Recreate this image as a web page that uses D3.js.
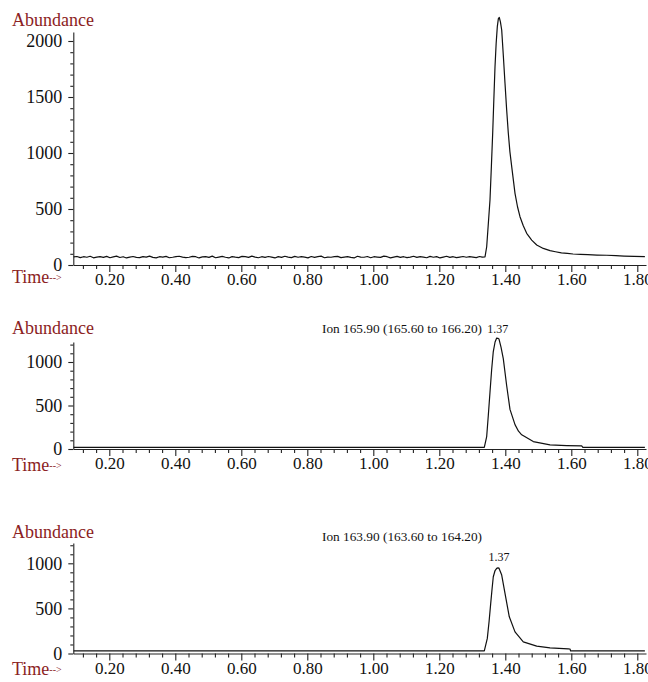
<!DOCTYPE html>
<html>
<head>
<meta charset="utf-8">
<script src="https://cdn.jsdelivr.net/npm/d3@7/dist/d3.min.js"></script>
<style>
  body { margin: 0; background: #fff; }
  svg { display: block; }
</style>
</head>
<body>
<svg id="chart" width="648" height="682"></svg>
<script>
// ---- data ----
const xMajorTicks = [0.2, 0.4, 0.6, 0.8, 1.0, 1.2, 1.4, 1.6, 1.8];
const xMinorTicks = [0.12, 0.16, 0.24, 0.28, 0.32, 0.36, 0.44, 0.48, 0.52, 0.56, 0.64, 0.68, 0.72, 0.76,
  0.84, 0.88, 0.92, 0.96, 1.04, 1.08, 1.12, 1.16, 1.24, 1.28, 1.32, 1.36, 1.44, 1.48, 1.52, 1.56,
  1.64, 1.68, 1.72, 1.76];

// TIC baseline, one reading every 0.01 min from 0.092
const ticBaseline = [
  72,76,66,74,69,78,64,71,75,68,77,65,72,79,67,74,63,71,76,68,
  66,75,70,79,68,64,74,71,77,65,69,75,78,70,66,69,77,74,63,72,
  74,68,79,65,71,77,69,63,75,70,66,77,74,68,79,71,65,74,68,76,
  71,63,75,68,78,71,66,77,69,74,70,64,76,68,74,79,65,71,69,75,
  77,66,71,74,68,63,78,71,69,76,65,74,71,68,79,74,64,71,77,68,
  74,66,71,78,68,74,71,65,77,69,75,63,71,78,68,74,66,71,76,69,
  74,71,66,76
];
const ticPeakTime = [1.330, 1.3385, 1.3436, 1.3486, 1.3536, 1.3578, 1.3618, 1.3653, 1.3688, 1.3723, 1.3758,
  1.3790, 1.3818, 1.3852, 1.3891, 1.3940, 1.3991, 1.4040, 1.4091, 1.4140, 1.4194, 1.4294, 1.4370, 1.4445,
  1.4545, 1.4648, 1.4800, 1.4952, 1.5150, 1.5355, 1.5520, 1.570, 1.588, 1.6052, 1.628, 1.650, 1.678,
  1.7073, 1.735, 1.760, 1.790, 1.823];
const ticPeakAbund = [70, 72, 163, 370, 580, 880, 1178, 1480, 1770, 1980, 2128,
  2200, 2210, 2170, 2098, 1870, 1622, 1390, 1178, 1010, 878, 640, 520, 431,
  350, 283, 222, 179, 148, 128, 118, 108, 104, 98, 95, 92, 89,
  87, 84, 80, 77, 74];

const ion166Time = [0.092, 1.3364, 1.3436, 1.3486, 1.3536, 1.3586, 1.3636, 1.3690, 1.3739, 1.3775, 1.3809,
  1.3870, 1.3939, 1.4042, 1.4142, 1.4294, 1.4400, 1.4497, 1.4848, 1.5355, 1.5861, 1.6315, 1.635, 1.823];
const ion166Abund = [18, 18, 143, 390, 653, 910, 1120, 1230, 1275, 1272, 1264,
  1170, 1038, 727, 455, 280, 205, 163, 85, 47, 39, 35, 18, 18];

const ion164Time = [0.092, 1.3364, 1.3455, 1.3510, 1.3558, 1.3600, 1.3636, 1.3690, 1.3739, 1.3775, 1.3809,
  1.3891, 1.3991, 1.4121, 1.4294, 1.4545, 1.4952, 1.5355, 1.5909, 1.596, 1.598, 1.823];
const ion164Abund = [28, 28, 167, 360, 556, 720, 851, 920, 944, 950, 946,
  870, 667, 407, 240, 129, 81, 62, 51, 50, 28, 28];

const yMajor1 = [0, 500, 1000, 1500, 2000];
const yMajor2 = [0, 500, 1000];
const ionLabels = ["", "Ion 165.90 (165.60 to 166.20)", "Ion 163.90 (163.60 to 164.20)"];
const peakLabels = ["", "1.37", "1.37"];

// ---- layout ----
const svg = d3.select("#chart");
const font = "'Liberation Serif', 'Times New Roman', serif";
const red = "#8b2222";

const x = d3.scaleLinear().domain([0.2, 1.8]).range([109.3, 637.3]);
const xLeft = 73.3, xRight = 646;

const ticSeries = ticBaseline.map((v, i) => [0.092 + i * 0.01, v])
  .concat(ticPeakTime.map((t, i) => [t, ticPeakAbund[i]]));

const panels = [
  { data: ticSeries, y0: 265, yRef: 41, refVal: 2000, top: 32, majors: yMajor1,
    abundY: 26, timeY: 283, ionY: null, peakY: null },
  { data: ion166Time.map((t, i) => [t, ion166Abund[i]]), y0: 449, yRef: 362, refVal: 1000, top: 342, majors: yMajor2,
    abundY: 334, timeY: 471, ionY: 333, peakY: 333 },
  { data: ion164Time.map((t, i) => [t, ion164Abund[i]]), y0: 653.5, yRef: 563.3, refVal: 1000, top: 543, majors: yMajor2,
    abundY: 538, timeY: 675, ionY: 541, peakY: 561 }
];

panels.forEach((p, k) => {
  const g = svg.append("g");
  const y = d3.scaleLinear().domain([0, p.refVal]).range([p.y0, p.yRef]);
  const yTopVal = y.invert(p.top);
  const yAx = y.copy().domain([0, yTopVal]).range([p.y0, p.top]);
  const minors = d3.range(100, yTopVal, 100).filter(v => v % 500 !== 0);

  // x axis
  const xa = x.copy().domain([x.invert(xLeft), x.invert(xRight)]).range([xLeft, xRight]);
  const gx = g.append("g").attr("transform", `translate(0,${p.y0})`)
    .call(d3.axisBottom(xa).tickValues(xMajorTicks).tickFormat(d3.format(".2f"))
      .tickSize(7).tickSizeOuter(0).tickPadding(1));
  g.append("g").attr("transform", `translate(0,${p.y0})`)
    .call(d3.axisBottom(xa).tickValues(xMinorTicks).tickFormat("").tickSize(4).tickSizeOuter(0))
    .select(".domain").remove();

  // y axis
  const gy = g.append("g").attr("transform", `translate(${xLeft},0)`)
    .call(d3.axisLeft(yAx).tickValues(p.majors).tickFormat(d3.format("d"))
      .tickSize(5).tickSizeOuter(0).tickPadding(6));
  g.append("g").attr("transform", `translate(${xLeft},0)`)
    .call(d3.axisLeft(yAx).tickValues(minors).tickFormat("").tickSize(3).tickSizeOuter(0))
    .select(".domain").remove();

  g.selectAll(".tick line, .domain").attr("stroke", "#222").attr("stroke-width", 1.1);
  gx.attr("font-family", null).attr("font-size", null);
  gy.attr("font-family", null).attr("font-size", null);
  gx.selectAll("text").style("font-family", font).style("font-size", "17px").attr("fill", "#111");
  gy.selectAll("text").style("font-family", font).style("font-size", "18px").attr("fill", "#111");

  // trace
  const line = d3.line().x(d => x(d[0])).y(d => y(d[1]));
  g.append("path").datum(p.data)
    .attr("d", line).attr("fill", "none")
    .attr("stroke", "#111").attr("stroke-width", 1.2).attr("stroke-linejoin", "round");

  // titles
  g.append("text").attr("x", 12).attr("y", p.abundY)
    .style("font-family", font).style("font-size", "18px").attr("fill", red).text("Abundance");
  const tt = g.append("text").attr("x", 12).attr("y", p.timeY)
    .style("font-family", font).style("font-size", "18px").attr("fill", red);
  tt.append("tspan").text("Time");
  tt.append("tspan").style("font-size", "10px").attr("dy", -2).text("-->");

  if (p.ionY) {
    g.append("text").attr("x", 322).attr("y", p.ionY)
      .style("font-family", font).style("font-size", "11.5px").attr("fill", "#111")
      .attr("textLength", 160).attr("lengthAdjust", "spacingAndGlyphs")
      .text(ionLabels[k]);
    const top = p.data.reduce((a, b) => (b[1] > a[1] ? b : a));
    g.append("text").attr("x", x(top[0]) + 1).attr("y", p.peakY)
      .attr("text-anchor", "middle")
      .style("font-family", font).style("font-size", "12px").attr("fill", "#111")
      .text(peakLabels[k]);
  }
});
</script>
</body>
</html>
